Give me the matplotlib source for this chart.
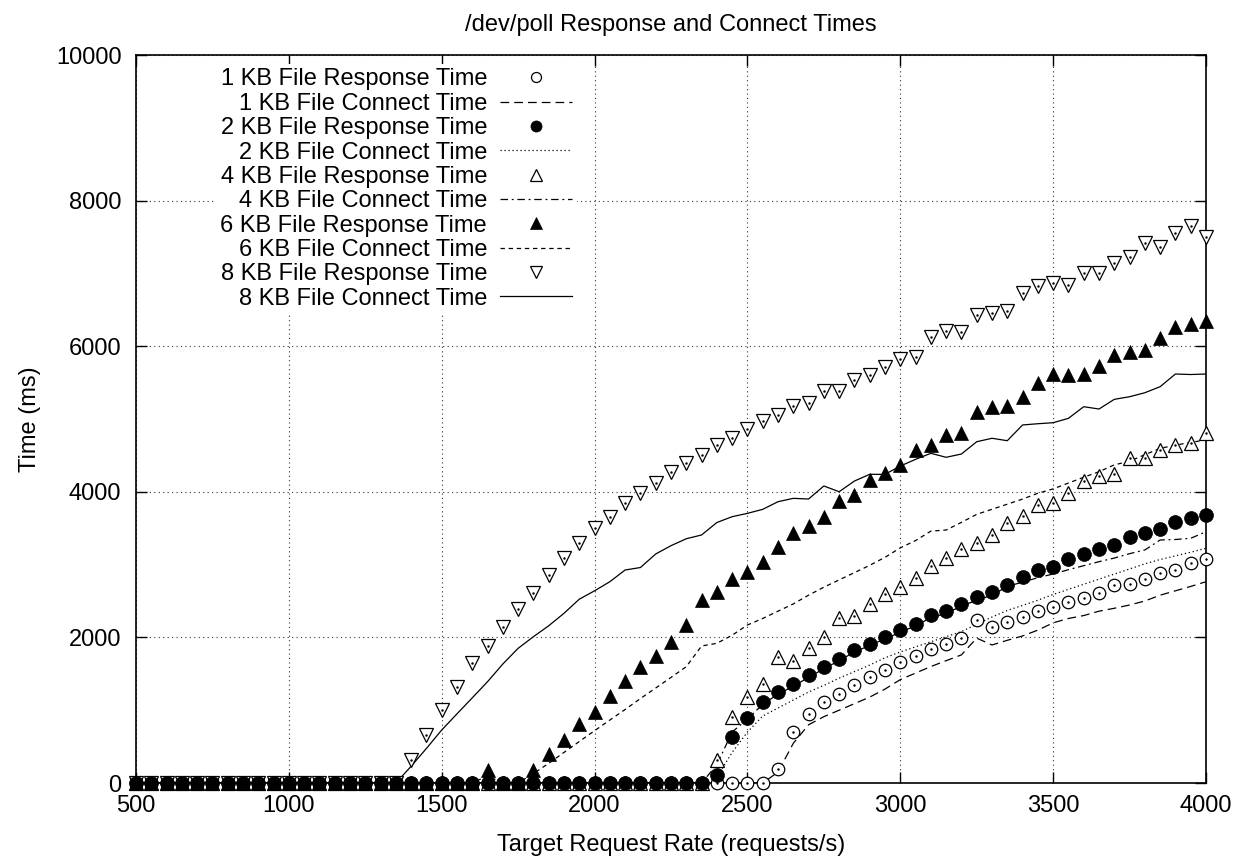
import matplotlib
matplotlib.use("Agg")
import matplotlib.pyplot as plt
import numpy as np

# request rates (requests/s), one sample every 50 from 500 to 4000
rates = list(range(500, 4001, 50))

# measured times in ms; each list starts at the first rate where the value leaves zero
resp_1kb = [188, 700, 943, 1108, 1222, 1346, 1451, 1552, 1657, 1749, 1836, 1913, 1990,
            2243, 2147, 2207, 2284, 2363, 2422, 2490, 2537, 2614, 2720, 2734, 2798, 2880,
            2926, 3026, 3073]
conn_1kb = [150, 545, 800, 911, 1000, 1090, 1180, 1290, 1420, 1510, 1600, 1680, 1760,
            1990, 1896, 1960, 2020, 2100, 2200, 2260, 2300, 2360, 2400, 2445, 2500, 2580,
            2640, 2700, 2765]
resp_2kb = [110, 636, 897, 1108, 1246, 1360, 1479, 1598, 1703, 1822, 1913, 2001, 2097,
            2188, 2303, 2358, 2464, 2557, 2628, 2720, 2825, 2926, 2971, 3073, 3141, 3214,
            3269, 3383, 3430, 3485, 3589, 3636, 3681]
conn_2kb = [80, 420, 700, 920, 1030, 1140, 1250, 1340, 1440, 1530, 1620, 1720, 1800,
            1870, 1940, 2010, 2080, 2180, 2280, 2370, 2440, 2510, 2590, 2660, 2730, 2800,
            2870, 2940, 3010, 3070, 3120, 3170, 3224]
resp_4kb = [316, 911, 1185, 1360, 1735, 1680, 1854, 2005, 2262, 2298, 2455, 2592, 2697,
            2820, 2981, 3086, 3221, 3296, 3407, 3576, 3668, 3819, 3850, 3985, 4150, 4217,
            4245, 4470, 4460, 4575, 4648, 4666, 4803]
conn_4kb = [250, 700, 880, 1080, 1220, 1330, 1450, 1570, 1680, 1800, 1890, 1980, 2070,
            2160, 2270, 2330, 2430, 2510, 2580, 2700, 2760, 2820, 2871, 2930, 2985, 3040,
            3090, 3150, 3201, 3338, 3345, 3361, 3452]
resp_6kb = [178, 0, 0, 178, 394, 591, 806, 979, 1195, 1405, 1598, 1745, 1941, 2165, 2518,
            2628, 2798, 2903, 3040, 3235, 3430, 3530, 3650, 3880, 3956, 4162, 4262, 4370,
            4580, 4643, 4780, 4803, 5100, 5169, 5185, 5306, 5490, 5618, 5604, 5618, 5728,
            5875, 5916, 5948, 6117, 6264, 6301, 6346]
conn_6kb = [100, 0, 0, 130, 270, 420, 570, 718, 865, 1010, 1160, 1305, 1450, 1598, 1882,
            1919, 2030, 2170, 2260, 2360, 2460, 2580, 2690, 2790, 2890, 2990, 3100, 3230,
            3330, 3460, 3475, 3580, 3690, 3760, 3830, 3900, 3980, 4040, 4120, 4200, 4276,
            4370, 4420, 4510, 4597, 4640, 4680, 4711]
resp_8kb = [316, 659, 1003, 1323, 1644, 1882, 2147, 2386, 2614, 2857, 3086, 3292, 3498,
            3658, 3842, 3979, 4125, 4276, 4400, 4505, 4643, 4735, 4865, 4977, 5055, 5179,
            5224, 5385, 5385, 5536, 5600, 5719, 5829, 5856, 6131, 6213, 6195, 6429, 6452,
            6485, 6735, 6827, 6864, 6841, 7001, 7001, 7147, 7221, 7413, 7367, 7550, 7655,
            7496]
conn_8kb = [230, 475, 728, 950, 1170, 1392, 1635, 1850, 2010, 2160, 2331, 2525, 2640,
            2765, 2926, 2960, 3146, 3260, 3355, 3407, 3578, 3658, 3704, 3759, 3864, 3910,
            3901, 4080, 4001, 4148, 4240, 4240, 4354, 4446, 4529, 4474, 4519, 4688, 4735,
            4702, 4918, 4935, 4949, 5009, 5169, 5137, 5270, 5306, 5361, 5444, 5618, 5611,
            5618]

x_ticks = [500, 1000, 1500, 2000, 2500, 3000, 3500, 4000]
y_ticks = [0, 2000, 4000, 6000, 8000, 10000]


def pad(vals):
    # everything before the listed values sat at zero
    return np.array([0] * (len(rates) - len(vals)) + vals)


plt.rcParams['font.family'] = ['Liberation Sans', 'DejaVu Sans']
plt.rcParams['font.size'] = 17

fig = plt.figure(figsize=(12.42, 8.59), dpi=100)
ax = fig.add_axes([136 / 1242, 1 - 783 / 859, 1070 / 1242, 728 / 859])

x = np.array(rates)
lw = 0.9
pt = dict(linestyle='none', color='black', clip_on=False, zorder=3)
dot = dict(linestyle='none', marker='.', markersize=1.5, color='black', clip_on=False, zorder=3.1)

# 1 KB
ax.plot(x, pad(resp_1kb), marker='o', markersize=9, markerfacecolor='white',
        markeredgewidth=0.9, label='1 KB File Response Time', **pt)
ax.plot(x, pad(resp_1kb), **dot)
ax.plot(x, pad(conn_1kb), color='black', lw=lw, linestyle=(0, (7, 4)),
        label='1 KB File Connect Time')
# 2 KB (kept on top so the zero row reads as filled dots)
ax.plot(x, pad(resp_2kb), marker='o', markersize=10, markerfacecolor='black',
        markeredgewidth=0.5, linestyle='none', color='black', clip_on=False, zorder=3.5,
        label='2 KB File Response Time')
ax.plot(x, pad(conn_2kb), color='black', lw=lw, linestyle=(0, (1, 2.2)),
        label='2 KB File Connect Time')
# 4 KB
ax.plot(x, pad(resp_4kb), marker='^', markersize=10, markerfacecolor='white',
        markeredgewidth=0.9, label='4 KB File Response Time', **pt)
ax.plot(x, pad(resp_4kb), **dot)
ax.plot(x, pad(conn_4kb), color='black', lw=lw, linestyle=(0, (6, 3, 1.5, 3)),
        label='4 KB File Connect Time')
# 6 KB
ax.plot(x, pad(resp_6kb), marker='^', markersize=10, markerfacecolor='black',
        markeredgewidth=0.5, label='6 KB File Response Time', **pt)
ax.plot(x, pad(conn_6kb), color='black', lw=lw, linestyle=(0, (3.5, 3)),
        label='6 KB File Connect Time')
# 8 KB
ax.plot(x, pad(resp_8kb), marker='v', markersize=10, markerfacecolor='white',
        markeredgewidth=0.9, label='8 KB File Response Time', **pt)
ax.plot(x, pad(resp_8kb), **dot)
ax.plot(x, pad(conn_8kb), color='black', lw=lw, linestyle='-',
        label='8 KB File Connect Time')

ax.set_xlim(500, 4000)
ax.set_ylim(0, 10000)
ax.set_xticks(x_ticks)
ax.set_yticks(y_ticks)
ax.grid(True, color='0.2', linestyle=(0, (1, 3)), linewidth=0.8)
ax.tick_params(direction='in', length=8, width=1, top=True, right=True,
               labelsize=17)
ax.tick_params(axis='x', pad=9)
ax.tick_params(axis='y', pad=10.5)
for s in ax.spines.values():
    s.set_linewidth(1.2)

ax.set_title('/dev/poll Response and Connect Times', fontsize=17, pad=17)
ax.set_xlabel('Target Request Rate (requests/s)')
ax.set_ylabel('Time (ms)')
ax.xaxis.set_label_coords(0.5, -0.07)
ax.yaxis.set_label_coords(-0.089, 0.5)

leg = ax.legend(loc='upper right', bbox_to_anchor=(0.412, 0.988), markerfirst=False,
                frameon=True, facecolor='white', edgecolor='none', framealpha=1,
                fancybox=False, borderpad=0.2, borderaxespad=0, labelspacing=0.1,
                handlelength=3.05, handletextpad=0.55, markerscale=0.8, fontsize=17)
leg.set_zorder(10)

fig.savefig('out.png', dpi=100)
